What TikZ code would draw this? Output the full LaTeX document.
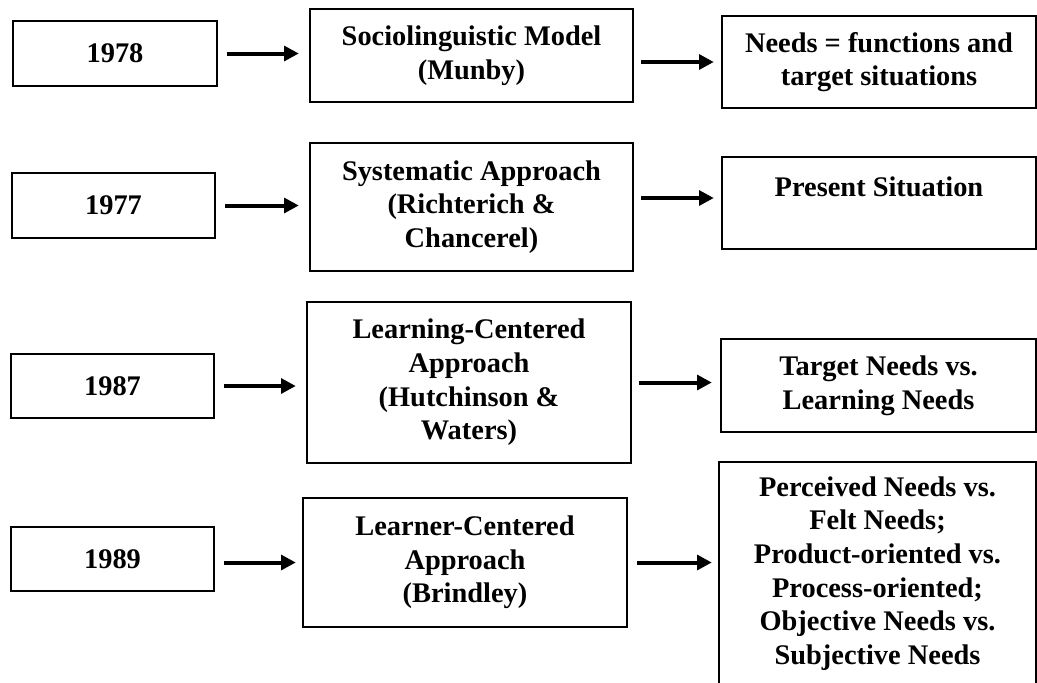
\documentclass[tikz,border=0pt]{standalone}
\usepackage{fontspec}
\setmainfont{Liberation Serif}
\usetikzlibrary{arrows.meta}
\newdimen\pxu
\pxu=0.75pt
\begin{document}
\begin{tikzpicture}[x=0.75pt,y=-0.75pt,
		box/.style={draw,line width=1.8pt,inner sep=0pt,align=center,
			font=\bfseries\fontsize{21.3}{25.2}\selectfont},
		arr/.style={line width=3pt,-{Triangle[length=11pt,width=11pt]}}]
	\clip (0,0) rectangle (1037,682);
	\fill[white] (0,0) rectangle (1037,682);
	% years
	\node[box,minimum width=204\pxu,minimum height=65\pxu] (y78) at (115,53.5) {1978};
	\node[box,minimum width=203\pxu,minimum height=65\pxu] (y77) at (113.5,205.5) {1977};
	\node[box,minimum width=203\pxu,minimum height=64\pxu] (y87) at (112.5,386) {1987};
	\node[box,minimum width=203\pxu,minimum height=64\pxu] (y89) at (112.5,559) {1989};
	% approaches
	\node[box,minimum width=323\pxu,minimum height=93\pxu] (munby) at (471.5,55.5) {Sociolinguistic Model\\(Munby)};
	\node[box,minimum width=323\pxu,minimum height=128\pxu] (richterich) at (471.5,207) {Systematic Approach\\(Richterich \&\\Chancerel)};
	\node[box,minimum width=324\pxu,minimum height=161\pxu] (hutchinson) at (469,382.5) {Learning-Centered\\Approach\\(Hutchinson \&\\Waters)};
	\node[box,minimum width=324\pxu,minimum height=129\pxu] (brindley) at (465,562.5) {Learner-Centered\\Approach\\(Brindley)};
	% needs
	\node[box,minimum width=314\pxu,minimum height=92\pxu] (functions) at (879,62) {Needs = functions and\\target situations};
	\node[box,minimum width=314\pxu,minimum height=92\pxu] (present) at (879,203) {Present Situation\\~};
	\node[box,minimum width=315\pxu,minimum height=93\pxu] (target) at (878.5,385.5) {Target Needs vs.\\Learning Needs};
	\node[box,minimum width=317\pxu,minimum height=223\pxu] (perceived) at (877.5,573.5) {Perceived Needs vs.\\Felt Needs;\\Product-oriented vs.\\Process-oriented;\\Objective Needs vs.\\Subjective Needs};
	% arrows
	\draw[arr] ([xshift=9\pxu]y78.east) -- ([xshift=-10\pxu]munby.west |- y78.east);
	\draw[arr] ([xshift=9\pxu]y77.east) -- ([xshift=-10\pxu]richterich.west |- y77.east);
	\draw[arr] ([xshift=9\pxu]y87.east) -- ([xshift=-10\pxu]hutchinson.west |- y87.east);
	\draw[arr] ([xshift=9\pxu]y89.east |- brindley.west) -- ([xshift=-6\pxu]brindley.west);
	\draw[arr] ([xshift=7\pxu]munby.east |- functions.west) -- ([xshift=-7\pxu]functions.west);
	\draw[arr] ([xshift=7\pxu,yshift=5\pxu]richterich.east |- present.west) -- ([xshift=-7\pxu,yshift=5\pxu]present.west);
	\draw[arr] ([xshift=7\pxu]hutchinson.east) -- ([xshift=-8\pxu]target.west |- hutchinson.east);
	\draw[arr] ([xshift=9\pxu]brindley.east) -- ([xshift=-6\pxu]perceived.west |- brindley.east);
\end{tikzpicture}
\end{document}
